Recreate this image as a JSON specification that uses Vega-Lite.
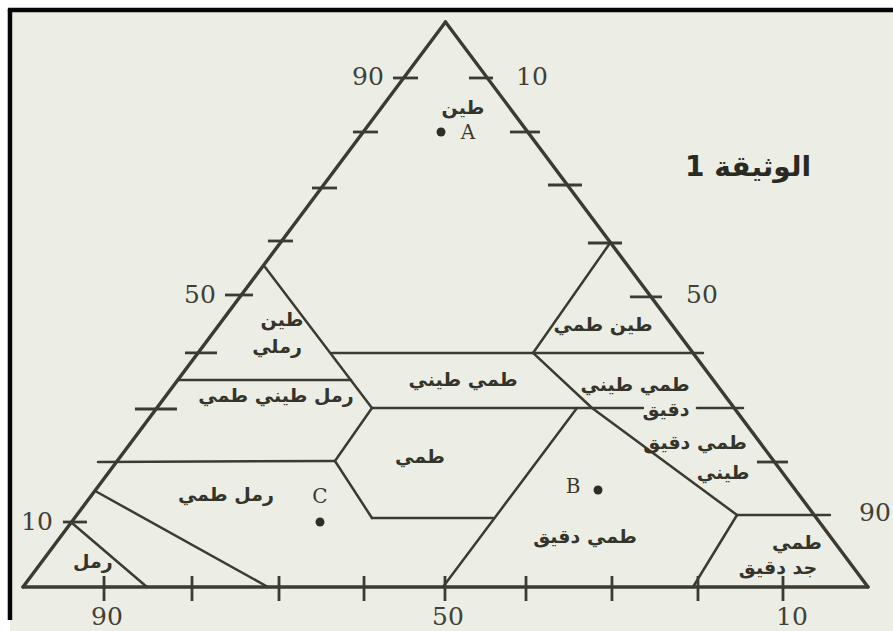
{
  "$schema": "https://vega.github.io/schema/vega-lite/v6.json",
  "width": 893,
  "height": 631,
  "autosize": {"type": "none"},
  "padding": 0,
  "background": "#ffffff",
  "config": {"view": {"stroke": null}},
  "datasets": {
    "paper": [{"x": -1.54, "x2": 102.96, "y": -7.79, "y2": 102.12}],
    "frame": [
      {"x": -1.78, "y": 102.12, "x2": 102.96, "y2": 102.12},
      {"x": -1.54, "y": 102.3, "x2": -1.54, "y2": -5.84}
    ],
    "edges": [
      {"x": 0, "y": 0, "x2": 50, "y2": 100},
      {"x": 50, "y": 100, "x2": 100, "y2": 0},
      {"x": 0, "y": 0, "x2": 100, "y2": 0}
    ],
    "ticks": [
      {"x": 43.79, "y": 90.09, "x2": 46.75, "y2": 90.09},
      {"x": 39.05, "y": 80.53, "x2": 42.01, "y2": 80.53},
      {"x": 34.2, "y": 70.62, "x2": 37.16, "y2": 70.62},
      {"x": 28.99, "y": 61.24, "x2": 31.95, "y2": 61.24},
      {"x": 23.91, "y": 51.68, "x2": 27.22, "y2": 51.68},
      {"x": 19.17, "y": 41.42, "x2": 22.96, "y2": 41.42},
      {"x": 13.25, "y": 31.5, "x2": 18.22, "y2": 31.5},
      {"x": 4.73, "y": 11.5, "x2": 7.57, "y2": 11.5},
      {"x": 52.78, "y": 90.09, "x2": 55.62, "y2": 90.09},
      {"x": 57.63, "y": 80.53, "x2": 61.18, "y2": 80.53},
      {"x": 62.13, "y": 71.15, "x2": 66.15, "y2": 71.15},
      {"x": 66.86, "y": 60.88, "x2": 70.89, "y2": 60.88},
      {"x": 71.83, "y": 51.33, "x2": 75.62, "y2": 51.33},
      {"x": 86.86, "y": 22.12, "x2": 90.53, "y2": 22.12},
      {"x": 9.59, "y": 1.95, "x2": 9.59, "y2": -2.48},
      {"x": 20.0, "y": 1.95, "x2": 20.0, "y2": -2.48},
      {"x": 30.3, "y": 1.95, "x2": 30.3, "y2": -2.48},
      {"x": 40.36, "y": 1.95, "x2": 40.36, "y2": -2.48},
      {"x": 49.94, "y": 1.95, "x2": 49.94, "y2": -2.48},
      {"x": 59.53, "y": 1.95, "x2": 59.53, "y2": -2.48},
      {"x": 69.7, "y": 1.95, "x2": 69.7, "y2": -2.48},
      {"x": 79.88, "y": 1.95, "x2": 79.88, "y2": -2.48},
      {"x": 89.94, "y": 1.95, "x2": 89.94, "y2": -2.48}
    ],
    "lines": [
      {"x": 28.64, "y": 56.64, "x2": 41.3, "y2": 31.68},
      {"x": 36.57, "y": 41.42, "x2": 80.47, "y2": 41.42},
      {"x": 60.36, "y": 41.42, "x2": 69.47, "y2": 60.88},
      {"x": 18.34, "y": 36.64, "x2": 38.82, "y2": 36.64},
      {"x": 41.3, "y": 31.68, "x2": 73.37, "y2": 31.68},
      {"x": 79.76, "y": 31.68, "x2": 85.21, "y2": 31.68},
      {"x": 41.3, "y": 31.68, "x2": 36.92, "y2": 22.3},
      {"x": 8.88, "y": 22.12, "x2": 36.92, "y2": 22.3},
      {"x": 36.92, "y": 22.3, "x2": 41.3, "y2": 12.21},
      {"x": 41.3, "y": 12.21, "x2": 55.62, "y2": 12.21},
      {"x": 49.7, "y": 0, "x2": 65.56, "y2": 31.68},
      {"x": 60.36, "y": 41.42, "x2": 67.34, "y2": 31.68},
      {"x": 67.34, "y": 31.68, "x2": 84.5, "y2": 12.74},
      {"x": 84.5, "y": 12.74, "x2": 95.5, "y2": 12.74},
      {"x": 84.5, "y": 12.74, "x2": 79.29, "y2": 0},
      {"x": 8.76, "y": 16.81, "x2": 28.99, "y2": 0},
      {"x": 5.8, "y": 11.33, "x2": 14.67, "y2": 0}
    ],
    "nums": [
      {"x": 40.83, "y": 90.27, "t": "90"},
      {"x": 20.95, "y": 51.68, "t": "50"},
      {"x": 1.66, "y": 11.5, "t": "10"},
      {"x": 60.24, "y": 90.27, "t": "10"},
      {"x": 80.36, "y": 51.68, "t": "50"},
      {"x": 100.83, "y": 13.1, "t": "90"},
      {"x": 9.94, "y": -5.31, "t": "90"},
      {"x": 50.3, "y": -5.31, "t": "50"},
      {"x": 91.01, "y": -5.31, "t": "10"}
    ],
    "names": [
      {"x": 52.07, "y": 84.78, "t": "طين"},
      {"x": 30.65, "y": 47.26, "t": "طين"},
      {"x": 30.06, "y": 42.48, "t": "رملي"},
      {"x": 68.64, "y": 46.37, "t": "طين طمي"},
      {"x": 52.07, "y": 36.64, "t": "طمي طيني"},
      {"x": 72.43, "y": 35.75, "t": "طمي طيني"},
      {"x": 76.09, "y": 31.33, "t": "دقيق"},
      {"x": 29.94, "y": 33.81, "t": "رمل طيني طمي"},
      {"x": 79.53, "y": 25.49, "t": "طمي دقيق"},
      {"x": 82.84, "y": 20.18, "t": "طيني"},
      {"x": 46.98, "y": 23.01, "t": "طمي"},
      {"x": 24.02, "y": 16.28, "t": "رمل طمي"},
      {"x": 66.51, "y": 8.85, "t": "طمي دقيق"},
      {"x": 91.6, "y": 7.79, "t": "طمي"},
      {"x": 89.35, "y": 3.36, "t": "جد دقيق"},
      {"x": 8.28, "y": 4.42, "t": "رمل"}
    ],
    "letters": [
      {"x": 52.66, "y": 80.35, "t": "A"},
      {"x": 65.09, "y": 17.7, "t": "B"},
      {"x": 35.15, "y": 15.93, "t": "C"}
    ],
    "dots": [
      {"x": 49.47, "y": 80.53, "p": "A"},
      {"x": 68.05, "y": 17.17, "p": "B"},
      {"x": 35.15, "y": 11.5, "p": "C"}
    ],
    "title": [{"x": 85.8, "y": 74.16, "t": "1 الوثيقة"}]
  },
  "encoding": {
    "x": {"field": "x", "type": "quantitative", "scale": {"domain": [-2.72, 102.96], "nice": false, "zero": false}, "axis": null},
    "y": {"field": "y", "type": "quantitative", "scale": {"domain": [-7.79, 103.89], "nice": false, "zero": false}, "axis": null}
  },
  "layer": [
    {
      "data": {"name": "paper"},
      "mark": {"type": "rect", "color": "#eceee6"},
      "encoding": {"x2": {"field": "x2"}, "y2": {"field": "y2"}}
    },
    {
      "data": {"name": "frame"},
      "mark": {"type": "rule", "color": "#050505", "strokeWidth": 4.5},
      "encoding": {"x2": {"field": "x2"}, "y2": {"field": "y2"}}
    },
    {
      "data": {"name": "edges"},
      "mark": {"type": "rule", "color": "#3b3b30", "strokeWidth": 3.4, "strokeCap": "round"},
      "encoding": {"x2": {"field": "x2"}, "y2": {"field": "y2"}}
    },
    {
      "data": {"name": "ticks"},
      "mark": {"type": "rule", "color": "#3b3b30", "strokeWidth": 2.8},
      "encoding": {"x2": {"field": "x2"}, "y2": {"field": "y2"}}
    },
    {
      "data": {"name": "lines"},
      "mark": {"type": "rule", "color": "#3b3b30", "strokeWidth": 2.5, "strokeCap": "round"},
      "encoding": {"x2": {"field": "x2"}, "y2": {"field": "y2"}}
    },
    {
      "data": {"name": "nums"},
      "mark": {"type": "text", "font": "DejaVu Serif", "fontSize": 25, "color": "#404036", "align": "center", "baseline": "middle"},
      "encoding": {"text": {"field": "t"}}
    },
    {
      "data": {"name": "names"},
      "mark": {"type": "text", "font": "DejaVu Sans", "fontSize": 19, "fontWeight": "bold", "color": "#34342a", "align": "center", "baseline": "middle"},
      "encoding": {"text": {"field": "t"}}
    },
    {
      "data": {"name": "letters"},
      "mark": {"type": "text", "font": "DejaVu Serif", "fontSize": 20, "color": "#3a3a30", "align": "center", "baseline": "middle"},
      "encoding": {"text": {"field": "t"}}
    },
    {
      "data": {"name": "dots"},
      "mark": {"type": "point", "filled": true, "size": 80, "color": "#2e2e25", "opacity": 1},
      "encoding": {}
    },
    {
      "data": {"name": "title"},
      "mark": {"type": "text", "font": "DejaVu Sans", "fontSize": 28, "fontWeight": "bold", "color": "#2a2a22", "align": "center", "baseline": "middle"},
      "encoding": {"text": {"field": "t"}}
    }
  ]
}
